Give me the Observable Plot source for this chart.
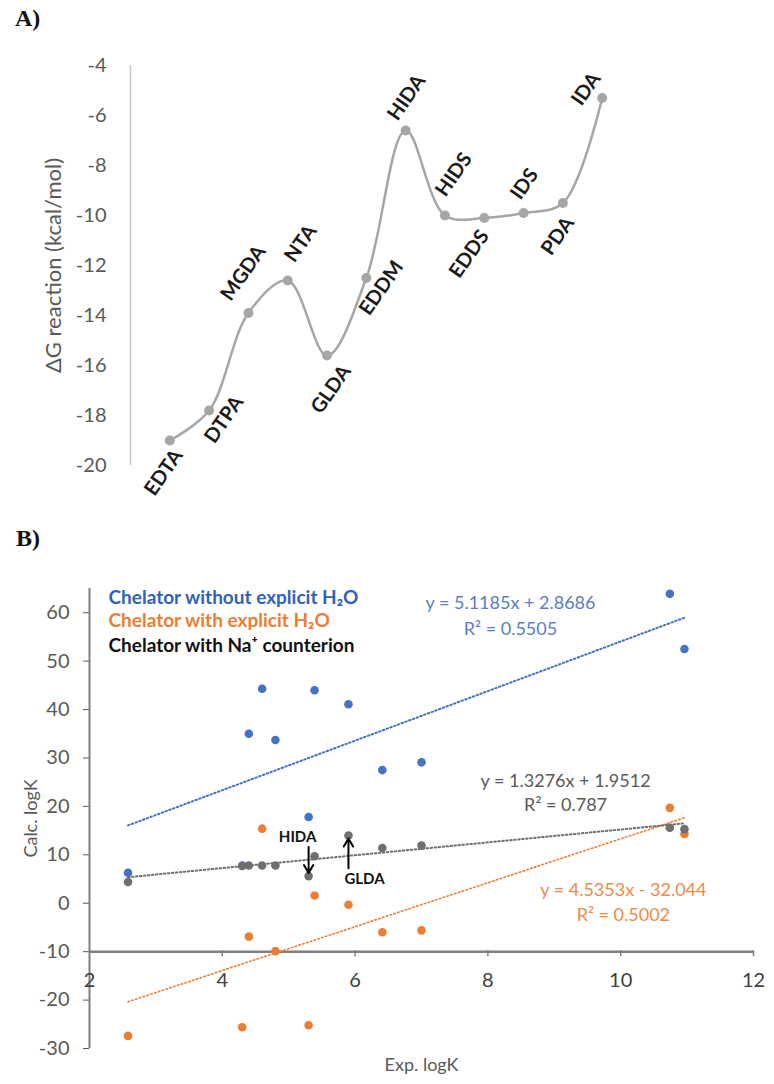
<!DOCTYPE html>
<html>
<head>
<meta charset="utf-8">
<script src="https://cdn.jsdelivr.net/npm/d3@7"></script>
<script src="https://cdn.jsdelivr.net/npm/@observablehq/plot@0.6"></script>
<style>
  body { margin: 0; background: #fff; }
  #page { position: relative; width: 774px; height: 1084px; overflow: hidden; font-family: Lato, sans-serif; }
  .panel-tag { position: absolute; font-family: "Liberation Serif", "DejaVu Serif", serif; font-weight: bold; font-size: 24px; line-height: 24px; color: #111; }
  #chartA, #chartB { position: absolute; left: 0; }
  #chartA { top: 0; }
  #chartB { top: 530px; }
</style>
</head>
<body>
<div id="page">
  <div id="chartA"></div>
  <div id="chartB"></div>
  <div class="panel-tag" style="left:15px;top:6px">A)</div>
  <div class="panel-tag" style="left:16px;top:526px">B)</div>
</div>
<script>
// ---- Panel A: reaction free energy for each chelator ----
const chelators = ["EDTA", "DTPA", "MGDA", "NTA", "GLDA", "EDDM", "HIDA", "HIDS", "EDDS", "IDS", "PDA", "IDA"];
const deltaG = [-19.0, -17.8, -13.9, -12.6, -15.6, -12.5, -6.6, -10.0, -10.1, -9.9, -9.5, -5.3];
const deltaGTicks = [-20, -18, -16, -14, -12, -10, -8, -6, -4];

// ---- Panel B: calculated vs experimental logK ----
const expLogK = [2.58, 4.30, 4.40, 4.60, 4.80, 5.30, 5.39, 5.90, 6.41, 7.00, 10.74, 10.96];
const calcNoWater = [6.3, 7.8, 35.0, 44.3, 33.7, 17.8, 44.0, 41.1, 27.5, 29.1, 63.9, 52.5];
const calcWithWater = [-27.4, -25.6, -6.9, 15.4, -9.9, -25.2, 1.6, -0.3, -6.0, -5.6, 19.7, 14.3];
const calcSodium = [4.4, 7.7, 7.8, 7.8, 7.8, 5.6, 9.7, 14.0, 11.4, 11.9, 15.6, 15.3];
const seriesNames = ["Chelator without explicit H₂O", "Chelator with explicit H₂O", "Chelator with Na⁺ counterion"];
const trendSlopes = [5.1185, 4.5353, 1.3276];
const trendIntercepts = [2.8686, -32.044, 1.9512];
const trendR2 = ["0.5505", "0.5002", "0.787"];
const expTicks = [2, 4, 6, 8, 10, 12];
const calcTicks = [-30, -20, -10, 0, 10, 20, 30, 40, 50, 60];
const highlighted = [{name: "HIDA", index: 5}, {name: "GLDA", index: 7}];

// ---- styling ----
const gray = "#a6a6a6";
const seriesColors = ["#4472C4", "#ED7D31", "#6F6F6F"];
const equationColors = ["#5A7DC4", "#EE8A4B", "#595959"];
const legendColors = ["#2F62B8", "#ED7D31", "#111111"];
// label offsets (px) around each point of panel A
const labelOffset = {
  EDTA: [-6, 32], DTPA: [15, 9], MGDA: [-5, -40], NTA: [13, -37], GLDA: [4, 34], EDDM: [15, 10],
  HIDA: [1, -33], HIDS: [9, -41], EDDS: [-15, 36], IDS: [1, -29], PDA: [-5, 33], IDA: [-16, -9]
};

const rowsA = chelators.map((name, i) => ({name, pos: i + 1, dg: deltaG[i]}));

const chartA = Plot.plot({
  width: 774, height: 520,
  marginLeft: 130, marginRight: 133, marginTop: 65, marginBottom: 55,
  style: {fontFamily: "Lato, sans-serif", fontSize: "20px", color: "#595959", background: "transparent", overflow: "visible"},
  x: {domain: [0, chelators.length + 1], axis: null},
  y: {domain: [-20, -4], ticks: deltaGTicks, tickFormat: d => String(d), tickSize: 0, tickPadding: 24, label: null},
  marks: [
    Plot.ruleX([0], {y1: -20, y2: -4, stroke: "#c8c8c8", strokeWidth: 1.5}),
    Plot.line(rowsA, {x: "pos", y: "dg", curve: "catmull-rom", stroke: gray, strokeWidth: 2.5}),
    Plot.dot(rowsA, {x: "pos", y: "dg", r: 5, fill: gray}),
    ...rowsA.map(d => Plot.text([d], {
      x: "pos", y: "dg", text: "name", rotate: -55,
      dx: labelOffset[d.name][0], dy: labelOffset[d.name][1],
      fontWeight: "bold", fontSize: 20, fill: "#1a1a1a"
    })),
    Plot.text(["ΔG reaction (kcal/mol)"], {
      text: d => d, frameAnchor: "left", textAnchor: "middle", lineAnchor: "middle",
      rotate: -90, dx: -77, fontSize: 22, fill: "#595959"
    })
  ]
});
document.getElementById("chartA").append(chartA);

// ---- Panel B ----
const seriesValues = [calcNoWater, calcWithWater, calcSodium];
const fmt = v => String(v);
const trendRows = seriesValues.map((vals, k) => {
  const x0 = d3.min(expLogK), x1 = d3.max(expLogK);
  return [x0, x1].map(x => ({k, x, y: trendSlopes[k] * x + trendIntercepts[k]}));
});
const equationText = k => {
  const b = trendIntercepts[k];
  return `y = ${fmt(trendSlopes[k])}x ${b < 0 ? "-" : "+"} ${fmt(Math.abs(b))}\nR² = ${trendR2[k]}`;
};
// where each equation block sits (data coordinates) and its line spacing
const equationPlacement = [
  {x: 8.34, y: 59.9, lineHeight: 1.45},
  {x: 10.04, y: 0.6, lineHeight: 1.38},
  {x: 9.17, y: 23.1, lineHeight: 1.33}
];

const chartB = Plot.plot({
  width: 774, height: 554,
  marginLeft: 89, marginRight: 21, marginTop: 58, marginBottom: 36,
  style: {fontFamily: "Lato, sans-serif", fontSize: "20px", color: "#595959", background: "transparent", overflow: "visible"},
  x: {domain: [2, 12], axis: null},
  y: {domain: [-30, 65], ticks: calcTicks, tickFormat: d => String(d), tickSize: 6, tickPadding: 14, label: null},
  marks: [
    // axes
    Plot.ruleX([2], {y1: -30, y2: 65, stroke: "#7f7f7f", strokeWidth: 2}),
    Plot.ruleY([-10], {x1: 2, x2: 12, stroke: "#7f7f7f", strokeWidth: 2.5}),
    Plot.ruleX(expTicks.slice(1), {x: d => d, y1: -10, y2: -10, insetTop: -1, insetBottom: -5, stroke: "#7f7f7f", strokeWidth: 1.5}),
    Plot.text(expTicks, {x: d => d, y: -10, dy: 29, text: d => String(d), fill: "#404040", fontSize: 20}),
    // trend lines
    ...trendRows.map((rows, k) => Plot.line(rows, {
      x: "x", y: "y", stroke: seriesColors[k], strokeWidth: k === 1 ? 1.6 : 2,
      strokeDasharray: "1.5,2.5"
    })),
    // points
    ...seriesValues.map((vals, k) => Plot.dot(expLogK, {
      x: d => d, y: (d, i) => vals[i], r: 4.3, fill: seriesColors[k]
    })),
    // trend equations
    ...equationPlacement.map((p, k) => Plot.text([p], {
      x: "x", y: "y", text: () => equationText(k), lineHeight: p.lineHeight,
      fill: equationColors[k], fontSize: 18
    })),
    // series legend
    ...seriesNames.map((name, k) => Plot.text([name], {
      text: d => d, frameAnchor: "top-left", textAnchor: "start", lineAnchor: "middle",
      dx: 19, dy: [9, 32, 57][k], fontWeight: "bold", fontSize: 19, fill: legendColors[k]
    })),
    // highlighted chelators
    Plot.arrow(highlighted, {
      x: d => expLogK[d.index],
      y1: d => calcSodium[d.index] + (d.name === "HIDA" ? 6.0 : -6.8),
      y2: d => calcSodium[d.index],
      insetEnd: 3, stroke: "#000", strokeWidth: 2, headLength: 7
    }),
    Plot.text(highlighted.filter(d => d.name === "HIDA"), {
      x: d => expLogK[d.index], y: d => calcSodium[d.index], text: "name",
      dx: -11, dy: -39, fontWeight: "bold", fontSize: 15, fill: "#111"
    }),
    Plot.text(highlighted.filter(d => d.name === "GLDA"), {
      x: d => expLogK[d.index], y: d => calcSodium[d.index], text: "name",
      dx: 16, dy: 44, fontWeight: "bold", fontSize: 15, fill: "#111"
    }),
    // axis titles
    Plot.text(["Calc. logK"], {
      text: d => d, frameAnchor: "left", textAnchor: "middle", lineAnchor: "middle",
      rotate: -90, dx: -58, fontSize: 18, fill: "#595959"
    }),
    Plot.text(["Exp. logK"], {
      text: d => d, frameAnchor: "bottom", textAnchor: "middle", lineAnchor: "middle",
      dy: 17, fontSize: 18, fill: "#595959"
    })
  ]
});
document.getElementById("chartB").append(chartB);
</script>
</body>
</html>
